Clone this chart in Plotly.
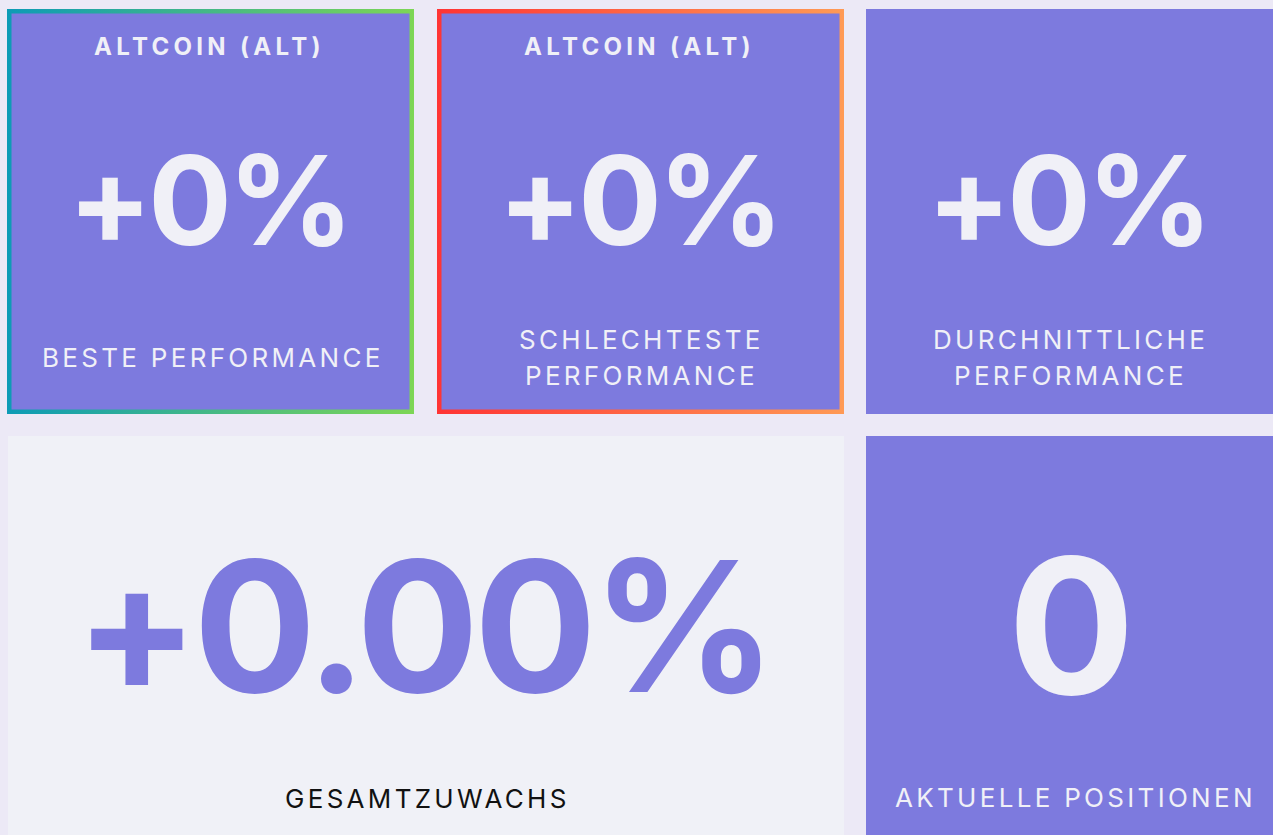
import plotly.graph_objects as go

# ---- data ----
coin_names = ["ALTCOIN (ALT)", "ALTCOIN (ALT)", ""]
perf_values = [0, 0, 0]  # best, worst, average (%)
perf_labels = [["BESTE PERFORMANCE"], ["SCHLECHTESTE", "PERFORMANCE"], ["DURCHNITTLICHE", "PERFORMANCE"]]
total_growth = 0.00
total_label = "GESAMTZUWACHS"
open_positions = 0
positions_label = "AKTUELLE POSITIONEN"

# ---- style ----
W, H = 1273, 835
BG = "#ece9f6"
TILE = "#7d7ade"
LIGHT_TILE = "#f0f1f7"
TXT = "#f0f0f7"
FONT = "Inter"


def ls(s, px):
    return f'<span style="letter-spacing:{px}px">{s}</span>'


top_tiles = [(7, 414), (437, 844), (866, 1280)]
top_y = (9, 414)
bottom_tiles = [(8, 844), (866, 1280)]
bot_y = (436, 840)
border = 4.5
gradients = [["#0d9bb6", "#7dd655"], ["#ff3434", "#ff9a55"], None]

fig = go.Figure()

shapes = []
for (x0, x1), grad in zip(top_tiles, gradients):
    if grad is not None:
        fig.add_trace(go.Scatter(
            x=[x0, x1, x1, x0, x0], y=[top_y[0], top_y[0], top_y[1], top_y[1], top_y[0]],
            mode="lines", line=dict(width=0), fill="toself",
            fillgradient=dict(type="horizontal", colorscale=[[0, grad[0]], [1, grad[1]]]),
            hoverinfo="skip", showlegend=False))
        shapes.append(dict(type="rect", x0=x0 + border, x1=x1 - border,
                           y0=top_y[0] + border, y1=top_y[1] - border,
                           fillcolor=TILE, line=dict(width=0), layer="above"))
    else:
        shapes.append(dict(type="rect", x0=x0, x1=x1, y0=top_y[0], y1=top_y[1],
                           fillcolor=TILE, line=dict(width=0), layer="above"))

shapes.append(dict(type="rect", x0=bottom_tiles[0][0], x1=bottom_tiles[0][1], y0=bot_y[0], y1=bot_y[1],
                   fillcolor=LIGHT_TILE, line=dict(width=0), layer="above"))
shapes.append(dict(type="rect", x0=bottom_tiles[1][0], x1=bottom_tiles[1][1], y0=bot_y[0], y1=bot_y[1],
                   fillcolor=TILE, line=dict(width=0), layer="above"))

LAB_LS = 3.3
ann = []
centers_top = [210.5, 640.5, 1069.5]
for cx, name, val, lab in zip(centers_top, coin_names, perf_values, perf_labels):
    if name:
        ann.append(dict(x=cx - 1, y=46, text=ls(name, 4.3), showarrow=False,
                        font=dict(family=FONT, size=24, color=TXT, weight=700)))
    ann.append(dict(x=cx - 2, y=200, text=ls(f"{val:+d}%", -4), showarrow=False,
                    font=dict(family=FONT, size=124, color=TXT, weight=700)))
    if len(lab) == 1:
        ann.append(dict(x=cx + 2, y=357, text=ls(lab[0], LAB_LS), showarrow=False,
                        font=dict(family=FONT, size=26, color=TXT, weight=400)))
    else:
        ann.append(dict(x=cx + 1, y=339, text=ls(lab[0], LAB_LS), showarrow=False,
                        font=dict(family=FONT, size=26, color=TXT, weight=400)))
        ann.append(dict(x=cx + 1, y=375, text=ls(lab[1], LAB_LS), showarrow=False,
                        font=dict(family=FONT, size=26, color=TXT, weight=400)))

ann.append(dict(x=423, y=626, text=ls(f"{total_growth:+.2f}%", -5), showarrow=False,
                font=dict(family=FONT, size=182, color=TILE, weight=700)))
ann.append(dict(x=427, y=798, text=ls(total_label, LAB_LS), showarrow=False,
                font=dict(family=FONT, size=26, color="#111111", weight=400)))
ann.append(dict(x=1071, y=625, text=f"{open_positions}", showarrow=False,
                font=dict(family=FONT, size=188, color=TXT, weight=700)))
ann.append(dict(x=1075, y=797, text=ls(positions_label, LAB_LS), showarrow=False,
                font=dict(family=FONT, size=26, color=TXT, weight=400)))

fig.update_layout(
    width=W, height=H, margin=dict(l=0, r=0, t=0, b=0),
    paper_bgcolor=BG, plot_bgcolor=BG,
    xaxis=dict(range=[0, W], visible=False, fixedrange=True),
    yaxis=dict(range=[H, 0], visible=False, fixedrange=True),
    shapes=shapes, annotations=ann, showlegend=False,
)

fig.write_html("out.html", config={"displayModeBar": False},
               post_script="document.body.style.margin='0';document.body.style.overflow='hidden';")
